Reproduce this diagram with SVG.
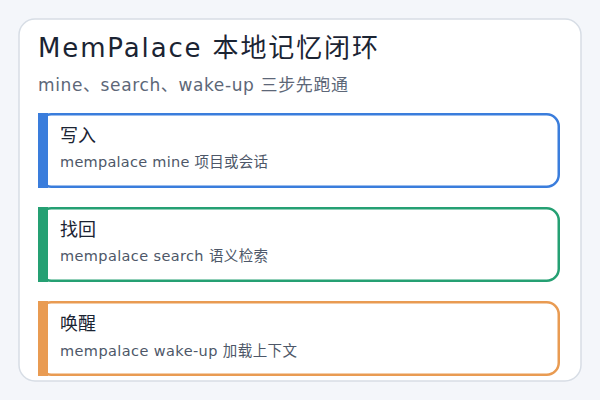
<svg xmlns="http://www.w3.org/2000/svg" width="600" height="400" viewBox="0 0 600 400">
<style>
text{font-family:"DejaVu Sans","Noto Sans CJK SC",sans-serif}
.title{font-size:26px;fill:#1b2433}
.sub{font-size:17px;fill:#5d6778}
.ct{font-size:18px;fill:#1b2433}
.cd{font-size:14.5px;fill:#4d5768}
.card{fill:#ffffff;stroke-width:2.5}
</style>
<rect x="0" y="0" width="600" height="400" fill="#f4f6fa"/>
<g id="panel">
<rect x="19" y="19" width="562" height="362" rx="16" fill="#ffffff" stroke="#d7dde5" stroke-width="1.5"/>
<text class="title" x="38" y="57" textLength="340" lengthAdjust="spacing">MemPalace 本地记忆闭环</text>
<text class="sub" x="38" y="91" textLength="310" lengthAdjust="spacing">mine、search、wake-up 三步先跑通</text>
</g>
<g id="node-write">
<rect class="card" x="39.25" y="114.25" width="519.5" height="72.5" rx="12" stroke="#3a7ddc"/>
<rect x="38" y="113" width="10" height="75" fill="#3a7ddc"/>
<text class="ct" x="60" y="142">写入</text>
<text class="cd" x="60" y="167" textLength="208" lengthAdjust="spacing">mempalace mine 项目或会话</text>
</g>
<g id="node-search">
<rect class="card" x="39.25" y="208.25" width="519.5" height="72.5" rx="12" stroke="#25a073"/>
<rect x="38" y="207" width="10" height="75" fill="#25a073"/>
<text class="ct" x="60" y="236">找回</text>
<text class="cd" x="60" y="261" textLength="208" lengthAdjust="spacing">mempalace search 语义检索</text>
</g>
<g id="node-wake">
<rect class="card" x="39.25" y="302.25" width="519.5" height="72.5" rx="12" stroke="#e99b52"/>
<rect x="38" y="301" width="10" height="75" fill="#e99b52"/>
<text class="ct" x="60" y="330">唤醒</text>
<text class="cd" x="60" y="356" textLength="237" lengthAdjust="spacing">mempalace wake-up 加载上下文</text>
</g>
<g id="connectors"/>
</svg>
